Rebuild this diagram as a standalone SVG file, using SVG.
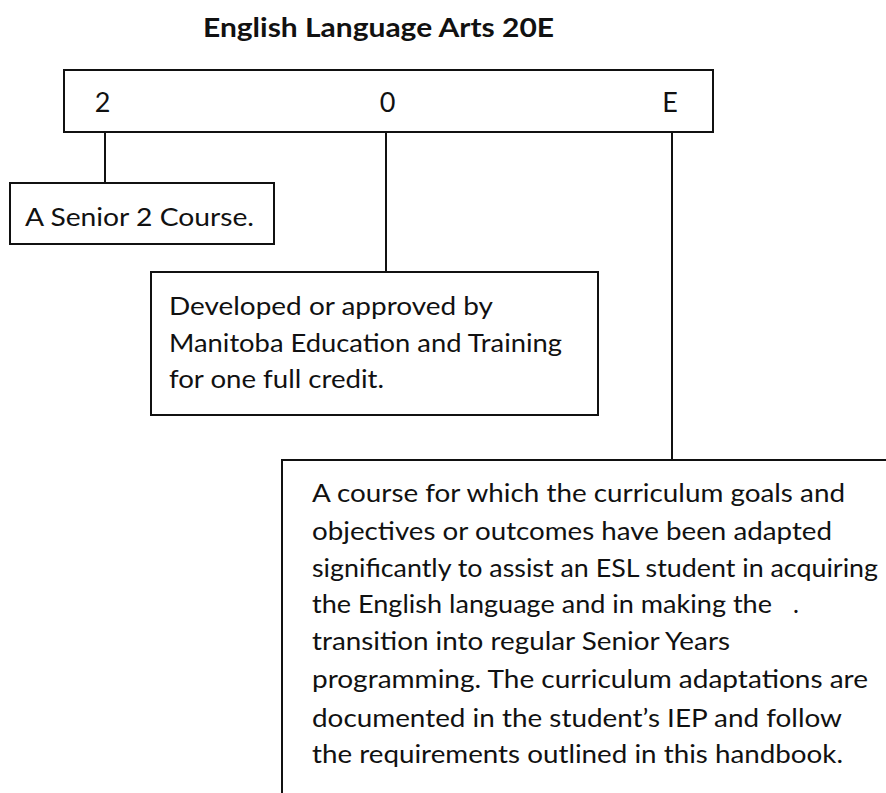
<svg xmlns="http://www.w3.org/2000/svg" width="886" height="793" viewBox="0 0 886 793">
<style>
.box{fill:#fff;stroke:#111;stroke-width:2}
.ln{fill:none;stroke:#111;stroke-width:2}
.t{font-family:Lato,"Open Sans","Liberation Sans",sans-serif;font-size:25px;fill:#111}
.d{font-family:Lato,"Open Sans","Liberation Sans",sans-serif;font-size:27px;fill:#111;text-anchor:middle}
.h{font-family:Lato,"Open Sans","Liberation Sans",sans-serif;font-size:26px;font-weight:bold;fill:#111}
</style>
<rect width="886" height="793" fill="#fff"/>
<text class="h" x="203" y="37" textLength="351" lengthAdjust="spacingAndGlyphs">English Language Arts 20E</text>
<g id="connectors">
<line class="ln" x1="105" y1="132" x2="105" y2="183"/>
<line class="ln" x1="386" y1="132" x2="386" y2="272"/>
<line class="ln" x1="672" y1="132" x2="672" y2="460"/>
</g>
<g id="code">
<rect class="box" x="64" y="70" width="649" height="62"/>
<text class="d" x="102.5" y="112">2</text>
<text class="d" x="387.5" y="112">0</text>
<text class="d" x="670" y="112">E</text>
</g>
<g id="senior">
<rect class="box" x="10" y="183" width="264" height="61"/>
<text class="t" x="25" y="226" textLength="229" lengthAdjust="spacingAndGlyphs">A Senior 2 Course.</text>
</g>
<g id="developed">
<rect class="box" x="151" y="272" width="447" height="143"/>
<text class="t" x="169" y="315" textLength="324" lengthAdjust="spacingAndGlyphs">Developed or approved by</text>
<text class="t" x="169" y="352" textLength="393" lengthAdjust="spacingAndGlyphs">Manitoba Education and Training</text>
<text class="t" x="169" y="388" textLength="215" lengthAdjust="spacingAndGlyphs">for one full credit.</text>
</g>
<g id="esl">
<path class="ln" d="M886 460 H282 V793"/>
<text class="t" x="312" y="502" textLength="533" lengthAdjust="spacingAndGlyphs">A course for which the curriculum goals and</text>
<text class="t" x="312" y="540" textLength="520" lengthAdjust="spacingAndGlyphs">objectives or outcomes have been adapted</text>
<text class="t" x="312" y="577" textLength="566" lengthAdjust="spacingAndGlyphs">significantly to assist an ESL student in acquiring</text>
<text class="t" x="312" y="613" textLength="460" lengthAdjust="spacingAndGlyphs">the English language and in making the</text>
<text class="t" x="793" y="613">.</text>
<text class="t" x="312" y="650" textLength="418" lengthAdjust="spacingAndGlyphs">transition into regular Senior Years</text>
<text class="t" x="312" y="688" textLength="556" lengthAdjust="spacingAndGlyphs">programming. The curriculum adaptations are</text>
<text class="t" x="312" y="727" textLength="530" lengthAdjust="spacingAndGlyphs">documented in the student’s IEP and follow</text>
<text class="t" x="312" y="763" textLength="531" lengthAdjust="spacingAndGlyphs">the requirements outlined in this handbook.</text>
</g>
</svg>
